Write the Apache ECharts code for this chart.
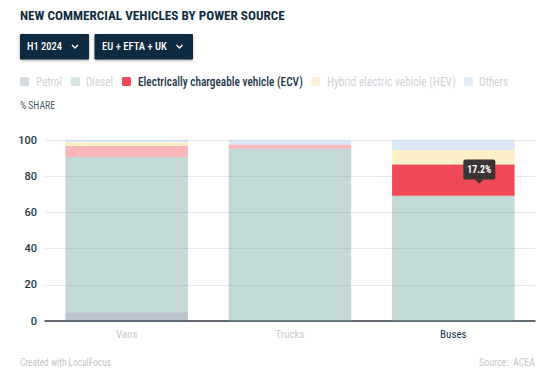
<!DOCTYPE html>
<html><head><meta charset="utf-8">
<script src="https://cdn.jsdelivr.net/npm/echarts@6/dist/echarts.min.js"></script>
<style>html,body{margin:0;padding:0;background:#fff}#c{width:550px;height:378px}</style>
</head><body><div id="c"></div>
<script>
const categories = ['Vans', 'Trucks', 'Buses'];
const petrol = [4.8, 0.0, 0.0];
const diesel = [85.8, 95.3, 69.2];
const ecv = [6.1, 2.1, 17.2];
const hev = [2.0, 0.0, 8.1];
const others = [1.3, 2.6, 5.5];
const seriesNames = ['Petrol', 'Diesel', 'Electrically chargeable vehicle (ECV)', 'Hybrid electric vehicle (HEV)', 'Others'];
const yMin = 0, yMax = 100, yStep = 20;
const highlightCategory = 'Buses';
const highlightSeries = 'Electrically chargeable vehicle (ECV)';
const tooltipText = '17.2%';

const ctx = document.createElement('canvas').getContext('2d');
function hasFont(name) {
  const s = 'Electrically chargeable vehicle WWW mmm iii';
  let res = false;
  ['monospace', 'serif'].forEach(fb => {
    ctx.font = '20px ' + fb; const a = ctx.measureText(s).width;
    ctx.font = "20px '" + name + "', " + fb; const b = ctx.measureText(s).width;
    if (a !== b) res = true;
  });
  return res;
}
const COND = ['Roboto Condensed', 'Liberation Sans Narrow', 'DejaVu Sans Condensed'].find(hasFont);
const FONT = COND ? "'" + COND + "', Roboto, sans-serif" : 'Roboto, sans-serif';

function fitText(id, str, x, y, w, size, weight, color, align) {
  ctx.font = weight + ' ' + size + 'px ' + FONT;
  const mw = ctx.measureText(str).width;
  return {
    type: 'text', id: id, x: x, y: y, scaleX: w / mw, silent: true,
    style: { text: str, fontSize: size, fontWeight: weight, fontFamily: FONT, fill: color,
      textAlign: align || 'left', textVerticalAlign: 'middle' }
  };
}

const chart = echarts.init(document.getElementById('c'), null, { renderer: 'svg' });

// base colours; faded series are drawn translucent so gridlines show through
const baseColors = ['#586e87', '#66a098', '#ef4856', '#fad978', '#a2c5eb'];
const fadeOpacity = 0.4;
const legendIconColors = ['#d5dbe1', '#d6e4e2', '#ef4856', '#fdf2d9', '#e4eef9'];
const legendLayout = [ // [iconX, textX, textWidth]
  [20, 36, 26], [71, 86, 27], [122, 138, 165], [311, 327, 129], [464, 479, 29]
];

const graphics = [
  fitText('title', 'NEW COMMERCIAL VEHICLES BY POWER SOURCE', 20, 16, 265, 13, 'bold', '#0f2e43'),
  { type: 'rect', id: 'b1', shape: { x: 20, y: 34, width: 69, height: 25.5, r: 1 },
    style: { fill: '#0c2c40', shadowBlur: 3, shadowColor: 'rgba(0,0,0,0.35)', shadowOffsetY: 1 }, silent: true },
  fitText('b1t', 'H1 2024', 27, 46.8, 35, 11, '500', '#ffffff'),
  { type: 'polyline', id: 'b1c', shape: { points: [[72, 45], [75, 48], [78, 45]] },
    style: { stroke: '#ffffff', lineWidth: 1.4, fill: null }, silent: true },
  { type: 'rect', id: 'b2', shape: { x: 94.5, y: 34, width: 98.5, height: 25.5, r: 1 },
    style: { fill: '#0c2c40', shadowBlur: 3, shadowColor: 'rgba(0,0,0,0.35)', shadowOffsetY: 1 }, silent: true },
  fitText('b2t', 'EU + EFTA + UK', 102, 46.8, 65, 11, '500', '#ffffff'),
  { type: 'polyline', id: 'b2c', shape: { points: [[176.5, 45], [179.5, 48], [182.5, 45]] },
    style: { stroke: '#ffffff', lineWidth: 1.4, fill: null }, silent: true },
  fitText('share', '% SHARE', 20, 105, 35, 10, 'normal', '#4b5b67'),
  fitText('credit', 'Created with LocalFocus', 20, 362, 91, 10, 'normal', '#c3c8cc'),
  fitText('source', 'Source:  ACEA', 535, 362, 56, 10, 'normal', '#c3c8cc', 'right')
];

seriesNames.forEach((name, i) => {
  const L = legendLayout[i];
  const active = name === highlightSeries;
  graphics.push({ type: 'rect', id: 'lgi' + i, shape: { x: L[0], y: 77, width: 9, height: 9, r: 1.5 },
    style: { fill: legendIconColors[i] }, silent: true });
  graphics.push(fitText('lgt' + i, name, L[1], 82, L[2], 12, active ? '500' : 'normal',
    active ? '#1b3447' : '#cfd4d9'));
});

function seriesDef(i, values) {
  return {
    name: seriesNames[i], type: 'bar', stack: 't', barWidth: '75%', silent: true,
    data: values.map((v, k) => {
      const on = seriesNames[i] === highlightSeries && categories[k] === highlightCategory;
      return { value: v, itemStyle: { color: baseColors[i], opacity: on ? 1 : fadeOpacity } };
    })
  };
}

const option = {
  animation: false,
  textStyle: { fontFamily: FONT },
  grid: { left: 45, right: 15, top: 140, bottom: 57 },
  xAxis: {
    type: 'category', data: categories,
    axisLine: { lineStyle: { color: '#353d44', width: 1.5 } },
    axisTick: { show: false },
    axisLabel: { fontSize: 11, margin: 8, fontFamily: FONT,
      color: (v) => v === highlightCategory ? '#1b3447' : '#c5cace' }
  },
  yAxis: {
    type: 'value', min: yMin, max: yMax, interval: yStep,
    axisLine: { show: false }, axisTick: { show: false },
    axisLabel: { fontSize: 11, color: '#1e3648', margin: 8, fontFamily: 'Roboto, sans-serif', fontWeight: 500 },
    splitLine: { lineStyle: { color: '#e8e8e8', width: 1 } }
  },
  series: [seriesDef(0, petrol), seriesDef(1, diesel), seriesDef(2, ecv), seriesDef(3, hev), seriesDef(4, others)],
  graphic: graphics
};
chart.setOption(option);

const hi = categories.indexOf(highlightCategory);
const topVal = petrol[hi] + diesel[hi] + ecv[hi];
const p = chart.convertToPixel({ xAxisIndex: 0, yAxisIndex: 0 }, [highlightCategory, topVal]);
const tx = p[0] + 26, ty = p[1] + 5;
graphics.push(
  { type: 'rect', id: 'tipbox', shape: { x: tx - 16, y: ty - 10, width: 32, height: 20, r: 2 },
    style: { fill: '#3b3434' }, silent: true, z: 100 },
  { type: 'polygon', id: 'tiparrow', shape: { points: [[tx - 4.5, ty + 10], [tx + 4.5, ty + 10], [tx, ty + 14]] },
    style: { fill: '#3b3434' }, silent: true, z: 100 },
  Object.assign(fitText('tiptext', tooltipText, tx, ty, 24, 11.5, 'bold', '#ffffff', 'center'), { z: 101 })
);
chart.setOption({ graphic: graphics });
</script></body></html>
